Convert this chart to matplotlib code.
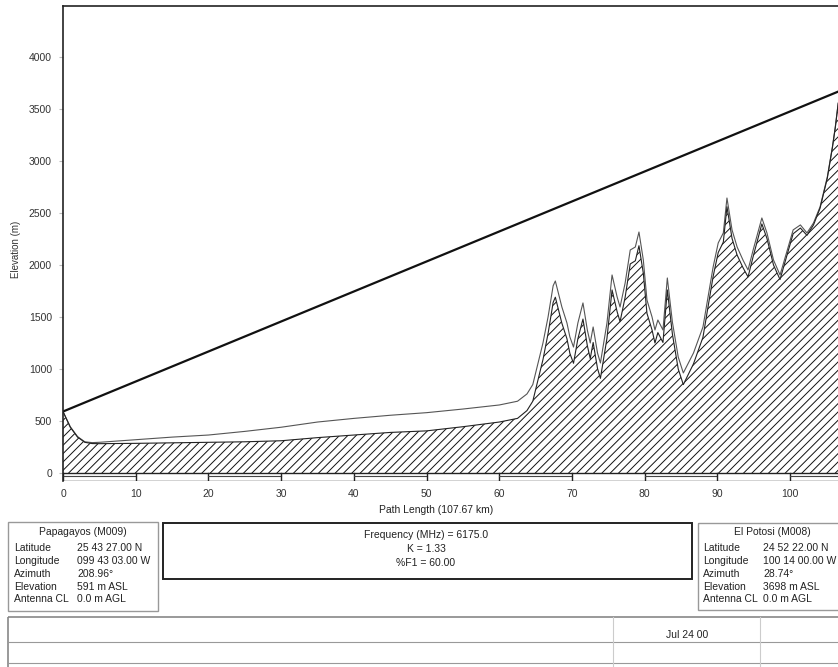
import matplotlib
matplotlib.use("Agg")
import matplotlib.pyplot as plt
from matplotlib.patches import Rectangle

plt.rcParams['font.family'] = ['Liberation Sans', 'DejaVu Sans']
plt.rcParams['hatch.linewidth'] = 0.7

# ---------------- data ----------------
dist_km = [0, 1, 2, 3, 4, 5, 10, 15, 20, 25, 30, 35, 40, 45, 50, 55, 60, 62.5, 63.8,
           64.6, 65.3, 66, 66.7, 67.4, 67.7, 68.6, 69.3, 69.7, 70.2, 70.8, 71.5, 72.1,
           72.5, 72.9, 73.5, 73.9, 74.8, 75.5, 76.2, 76.6, 77.3, 78, 78.7, 79.2, 79.8,
           80.3, 81, 81.4, 81.8, 82.5, 83.1, 83.8, 84.6, 85.3, 86.7, 88, 89.4, 90.1,
           90.8, 91.3, 92, 92.7, 93.5, 94.2, 94.9, 96.1, 96.8, 97.7, 98.6, 99.6, 100.4,
           101.4, 102.3, 103.2, 104.1, 105.1, 105.8, 106.2, 106.6, 107.67]

# hatched terrain profile (m)
terrain_m = [591, 440, 345, 295, 283, 282, 285, 290, 295, 300, 310, 340, 365, 390, 405, 445,
             490, 525, 600, 690, 890, 1090, 1340, 1640, 1690, 1440, 1290, 1150, 1055, 1290,
             1480, 1225, 1100, 1255, 1005, 910, 1295, 1760, 1550, 1455, 1690, 2010, 2040,
             2185, 1920, 1535, 1375, 1250, 1350, 1255, 1760, 1335, 1000, 850, 1050, 1305,
             1890, 2120, 2220, 2560, 2255, 2095, 1975, 1885, 2080, 2395, 2255, 2000, 1860,
             2105, 2300, 2355, 2285, 2385, 2545, 2835, 3128, 3322, 3555, 3698]

# thin outline drawn above the terrain (m)
upper_m = [591, 445, 350, 300, 292, 295, 320, 345, 365, 400, 440, 490, 525, 555, 580, 615,
           654, 690, 760, 850, 1050, 1250, 1500, 1800, 1846, 1596, 1442, 1308, 1211, 1442,
           1635, 1375, 1250, 1404, 1154, 1058, 1442, 1904, 1692, 1596, 1827, 2144, 2173,
           2317, 2048, 1663, 1500, 1375, 1471, 1375, 1875, 1450, 1115, 962, 1154, 1404,
           1981, 2212, 2308, 2644, 2337, 2173, 2048, 1952, 2144, 2452, 2308, 2048, 1904,
           2144, 2337, 2385, 2308, 2404, 2558, 2846, 3135, 3327, 3558, 3698]

path_length = 107.67
site_a_elev = 591
site_b_elev = 3698
x_ticks = [0, 10, 20, 30, 40, 50, 60, 70, 80, 90, 100]
y_ticks = [0, 500, 1000, 1500, 2000, 2500, 3000, 3500, 4000]

site_a_title = "Papagayos (M009)"
site_a_labels = ["Latitude", "Longitude", "Azimuth", "Elevation", "Antenna CL"]
site_a_values = ["25 43 27.00 N", "099 43 03.00 W", "208.96°", "591 m ASL", "0.0 m AGL"]
site_b_title = "El Potosi (M008)"
site_b_values = ["24 52 22.00 N", "100 14 00.00 W", "28.74°", "3698 m ASL", "0.0 m AGL"]
center_lines = ["Frequency (MHz) = 6175.0", "K = 1.33", "%F1 = 60.00"]
table_text = "Jul 24 00"

# ---------------- figure ----------------
W, H = 838, 667
fig = plt.figure(figsize=(W / 100, H / 100), dpi=100)

ax_l, ax_r, ax_t, ax_b = 63, 846, 6, 481
ax = fig.add_axes([ax_l / W, 1 - ax_b / H, (ax_r - ax_l) / W, (ax_b - ax_t) / H])
ax.set_xlim(0, path_length)
ax.set_ylim(-77, 4490)

# terrain
ax.fill_between(dist_km, terrain_m, 0, facecolor='white', edgecolor='#111111',
                hatch='////', linewidth=0)
ax.plot(dist_km, upper_m, color='#555555', lw=0.8)
ax.plot(dist_km, terrain_m, color='#222222', lw=0.8)

# line of sight
ax.plot([0, path_length], [site_a_elev, site_b_elev], color='#111111', lw=1.6)

# distance scale strip
strip_bot = -75
ax.axhline(0, color='#222222', lw=1.0)
ax.axhline(strip_bot, color='#222222', lw=1.0)
for i, t in enumerate(x_ticks):
    ax.plot([t, t], [strip_bot, 0], color='#222222', lw=1.0)
    if i % 2 == 0:
        end = min(t + 10, path_length)
        ax.plot([t, end], [-32, -32], color='#444444', lw=0.8)

for s in ['right', 'bottom']:
    ax.spines[s].set_visible(False)
ax.spines['left'].set_linewidth(1.2)
ax.spines['top'].set_linewidth(1.2)
ax.spines['left'].set_color('#222222')
ax.spines['top'].set_color('#222222')

ax.set_xticks(x_ticks)
ax.set_yticks(y_ticks)
ax.tick_params(axis='x', length=0, pad=6, labelsize=7.5, colors='#333333')
ax.tick_params(axis='y', length=3, pad=5, labelsize=7.5, colors='#333333',
               color='#bbbbbb')

# ---------------- overlay in pixel coordinates ----------------
ov = fig.add_axes([0, 0, 1, 1], facecolor='none')
ov.set_xlim(0, W)
ov.set_ylim(H, 0)
ov.axis('off')

fs = 7.5
ov.text(16, 249, "Elevation (m)", rotation=90, ha='center', va='center',
        fontsize=7, color='#333333')
ov.text(436, 510, "Path Length (107.67 km)", ha='center', va='center',
        fontsize=fs, color='#222222')

# site A box
ov.add_patch(Rectangle((8, 522), 150, 89, fill=False, ec='#999999', lw=1.0))
ov.text(83, 532, site_a_title, ha='center', va='center', fontsize=fs, color='#222222')
rows_y = [548, 561, 574, 587, 599]
for lab, val, yy in zip(site_a_labels, site_a_values, rows_y):
    ov.text(14, yy, lab, ha='left', va='center', fontsize=fs, color='#222222')
    ov.text(77, yy, val, ha='left', va='center', fontsize=fs, color='#222222')

# center box
ov.add_patch(Rectangle((163, 523), 529, 56, fill=False, ec='#222222', lw=1.4))
for txt, yy in zip(center_lines, [535, 549, 563]):
    ov.text(426, yy, txt, ha='center', va='center', fontsize=fs, color='#222222')

# site B box
ov.add_patch(Rectangle((698, 523), 150, 87, fill=False, ec='#999999', lw=1.0))
ov.text(772, 532, site_b_title, ha='center', va='center', fontsize=fs, color='#222222')
for lab, val, yy in zip(site_a_labels, site_b_values, rows_y):
    ov.text(703, yy, lab, ha='left', va='center', fontsize=fs, color='#222222')
    ov.text(763, yy, val, ha='left', va='center', fontsize=fs, color='#222222')

# bottom table
ov.add_patch(Rectangle((8, 617), 840, 60, fill=False, ec='#888888', lw=1.2))
ov.plot([8, W], [642, 642], color='#999999', lw=0.8)
ov.plot([8, W], [663, 663], color='#999999', lw=0.8)
ov.plot([613, 613], [617, 667], color='#cccccc', lw=0.8)
ov.plot([760, 760], [617, 667], color='#cccccc', lw=0.8)
ov.text(687, 635, table_text, ha='center', va='center', fontsize=fs, color='#222222')

fig.savefig("out.png", dpi=100, facecolor='white')
